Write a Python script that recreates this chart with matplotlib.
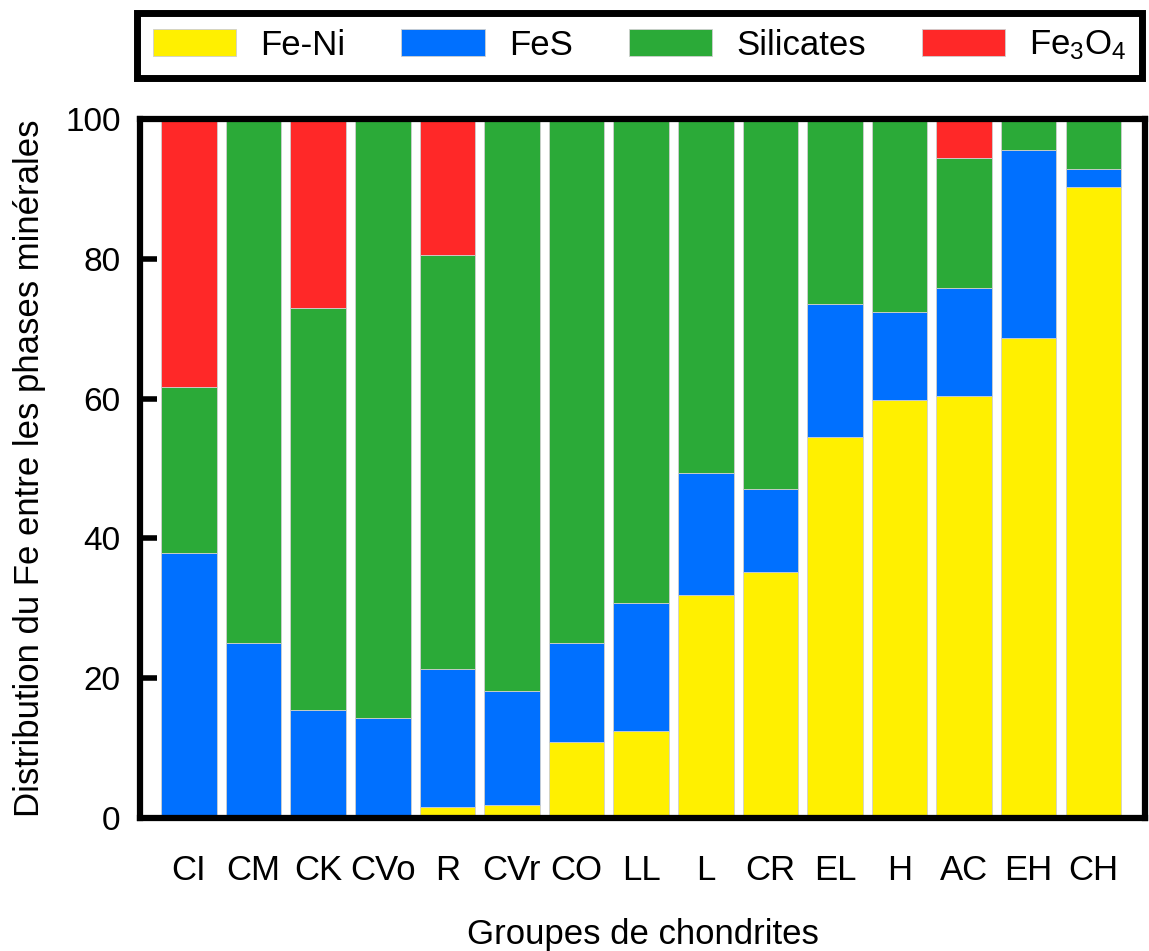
import matplotlib.pyplot as plt
import numpy as np

plt.rcParams['font.family'] = ['Liberation Sans', 'DejaVu Sans']
plt.rcParams['mathtext.default'] = 'regular'

groups = ['CI', 'CM', 'CK', 'CVo', 'R', 'CVr', 'CO', 'LL', 'L', 'CR', 'EL', 'H', 'AC', 'EH', 'CH']

# Fe distribution (%) per mineral phase
feni = [0, 0, 0, 0, 1.5, 1.8, 10.8, 12.4, 31.9, 35.2, 54.5, 59.8, 60.4, 68.6, 90.3]
fes = [37.9, 25.1, 15.5, 14.3, 19.8, 16.4, 14.3, 18.4, 17.4, 11.9, 19.1, 12.6, 15.4, 27.0, 2.6]
silicates = [23.8, 74.9, 57.4, 85.7, 59.3, 81.8, 74.9, 69.2, 50.7, 52.9, 26.4, 27.6, 18.6, 4.4, 7.1]
fe3o4 = [38.3, 0, 27.1, 0, 19.4, 0, 0, 0, 0, 0, 0, 0, 5.6, 0, 0]

series = [('Fe-Ni', feni, '#FFF000'),
          ('FeS', fes, '#0070FF'),
          ('Silicates', silicates, '#2BAA38'),
          ('Fe$_3$O$_4$', fe3o4, '#FF2828')]

fig = plt.figure(figsize=(11.49, 9.51), dpi=100)
ax = fig.add_axes([0.1218, 0.1399, 0.8747, 0.735])

x = np.arange(len(groups))
bottom = np.zeros(len(groups))
for name, vals, col in series:
    vals = np.array(vals)
    ax.bar(x, vals, 0.86, bottom=bottom, color=col, edgecolor='#cfcfcf',
           linewidth=0.6, label=name)
    bottom += vals

ax.set_xlim(-0.76, 14.8)
ax.set_ylim(0, 100)
ax.set_yticks([0, 20, 40, 60, 80, 100])
ax.set_xticks(x)
ax.set_xticklabels(groups)
ax.tick_params(axis='y', direction='in', length=12, width=4, labelsize=24, pad=14)
ax.tick_params(axis='x', length=0, labelsize=25, pad=26)
for s in ax.spines.values():
    s.set_linewidth(4.5)
    s.set_color('black')

ax.set_ylabel('Distribution du Fe entre les phases minérales', fontsize=25, labelpad=14)
ax.set_xlabel('Groupes de chondrites', fontsize=25, labelpad=22)

handles, labels = ax.get_legend_handles_labels()
leg = fig.legend(handles, labels, loc='lower left', ncol=4, mode='expand',
                 bbox_to_anchor=(0.1192, 0.918, 0.875, 0.072),
                 fontsize=25, frameon=True, fancybox=False, edgecolor='black',
                 framealpha=1, handlelength=2.4, handleheight=0.85,
                 handletextpad=0.7, borderpad=0.45, borderaxespad=0)
leg.get_frame().set_linewidth(5)

fig.savefig('out.png', dpi=100)
